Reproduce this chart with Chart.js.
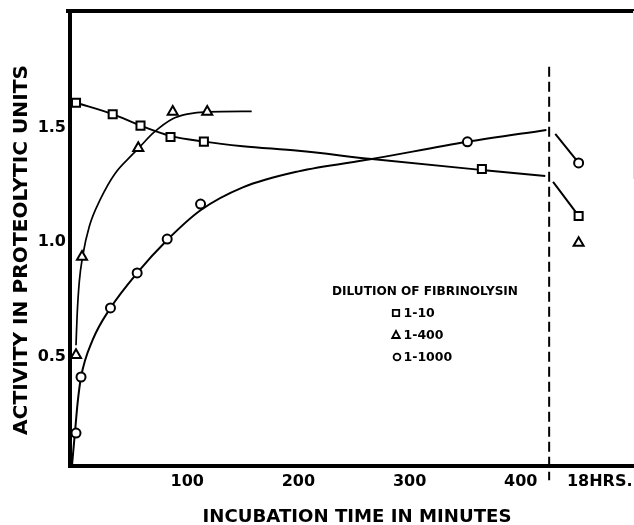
<!DOCTYPE html>
<html>
<head>
<meta charset="utf-8">
<script src="https://cdn.jsdelivr.net/npm/chart.js@4.4.1/dist/chart.umd.min.js"></script>
<style>
  html, body { margin: 0; padding: 0; background: #fff; }
</style>
</head>
<body>
<canvas id="chart" width="634" height="525"></canvas>
<script>
// values: time in minutes, activity in proteolytic units
// the 18 hr readings sit past the break, at x = 452 on the axis
const sqTime = [0, 33, 58, 85, 115, 365, 452];
const sqAct = [1.61, 1.56, 1.51, 1.46, 1.44, 1.32, 1.115];
const sqCurveTime = [0, 33, 58, 85, 115, 150, 200, 266, 365, 422];
const sqCurveAct = [1.61, 1.56, 1.51, 1.465, 1.44, 1.42, 1.40, 1.364, 1.316, 1.29];
const sqTailTime = [429, 452];
const sqTailAct = [1.264, 1.115];

const triTime = [0, 5.4, 56, 87, 118, 452];
const triAct = [0.507, 0.936, 1.412, 1.57, 1.57, 0.997];
const triCurveTime = [0, 1, 3, 6, 12, 21.6, 35, 51, 56, 70, 87, 100, 118, 158];
const triCurveAct = [0.55, 0.68, 0.83, 0.94, 1.07, 1.185, 1.30, 1.385, 1.41, 1.48, 1.54, 1.56, 1.57, 1.572];

const circTime = [0, 4.5, 31, 55, 82, 112, 352, 452];
const circAct = [0.166, 0.411, 0.713, 0.866, 1.014, 1.167, 1.439, 1.347];
const circCurveTime = [-3.5, -1, 1.5, 4.5, 15, 31, 55, 82, 112, 150, 200, 266, 352, 423];
const circCurveAct = [0.03, 0.166, 0.30, 0.41, 0.573, 0.713, 0.866, 1.01, 1.14, 1.24, 1.31, 1.364, 1.439, 1.491];
const circTailTime = [431, 452];
const circTailAct = [1.474, 1.347];

const breakTime = [425.5, 425.5];
const breakAct = [1.767, -0.04];

const dilutions = ['1-10', '1-400', '1-1000'];
const xTickValues = [100, 200, 300, 400, 471];
const xTickLabels = ['100', '200', '300', '400', '18HRS.'];
const yTickValues = [0.5, 1.0, 1.5];

const black = '#000';
const tickFont = { family: 'DejaVu Sans', size: 16, weight: 'bold' };

function pts(xs, ys) {
  return xs.map((x, i) => ({ x: x, y: ys[i] }));
}

const marker = {
  type: 'scatter', showLine: false, borderColor: black, backgroundColor: '#fff',
  pointBorderWidth: 2, pointBackgroundColor: '#fff', pointBorderColor: black, order: 0
};
const curve = {
  type: 'scatter', showLine: true, pointRadius: 0, borderColor: black, borderWidth: 2,
  cubicInterpolationMode: 'monotone', tension: 0.4, order: 1
};

const datasets = [
  { ...marker, label: dilutions[0], data: pts(sqTime, sqAct), pointStyle: 'rect', pointRadius: 5.7 },
  { ...marker, label: dilutions[1], data: pts(triTime, triAct), pointStyle: 'triangle', pointRadius: 5.8 },
  { ...marker, label: dilutions[2], data: pts(circTime, circAct), pointStyle: 'circle', pointRadius: 4.5 },
  { ...curve, data: pts(sqCurveTime, sqCurveAct) },
  { ...curve, data: pts(sqTailTime, sqTailAct), tension: 0 },
  { ...curve, data: pts(triCurveTime, triCurveAct), borderWidth: 1.7 },
  { ...curve, data: pts(circCurveTime, circCurveAct) },
  { ...curve, data: pts(circTailTime, circTailAct), tension: 0 },
  { ...curve, data: pts(breakTime, breakAct), tension: 0, cubicInterpolationMode: 'default',
    borderDash: [10, 5], clip: false }
];

function fitText(ctx, text, x, y, width, angle) {
  const w = ctx.measureText(text).width;
  ctx.save();
  ctx.translate(x, y);
  if (angle) ctx.rotate(angle);
  ctx.scale(width / w, 1);
  ctx.fillText(text, 0, 0);
  ctx.restore();
}

const decor = {
  id: 'decor',
  afterDraw(chart) {
    const ctx = chart.ctx;
    const a = chart.chartArea;
    ctx.save();
    // frame: heavy top rule, faint right edge
    ctx.strokeStyle = black;
    ctx.lineWidth = 4;
    ctx.beginPath();
    ctx.moveTo(66, a.top);
    ctx.lineTo(634, a.top);
    ctx.stroke();
    ctx.strokeStyle = '#d8d8d8';
    ctx.lineWidth = 1;
    ctx.beginPath();
    ctx.moveTo(a.right + 0.5, a.top);
    ctx.lineTo(a.right + 0.5, a.top + 168);
    ctx.stroke();

    // axis titles
    ctx.fillStyle = black;
    ctx.textAlign = 'center';
    ctx.textBaseline = 'middle';
    ctx.font = 'bold 18px "DejaVu Sans"';
    fitText(ctx, 'INCUBATION TIME IN MINUTES', 357, 517, 309);
    ctx.font = 'bold 20px "DejaVu Sans"';
    fitText(ctx, 'ACTIVITY IN PROTEOLYTIC UNITS', 22, 250, 370, -Math.PI / 2);

    // key
    ctx.font = 'bold 12.5px "DejaVu Sans"';
    fitText(ctx, 'DILUTION OF FIBRINOLYSIN', 425, 292, 186);
    ctx.textAlign = 'left';
    const mx = 396;
    const rows = [313, 335, 357];
    ctx.lineWidth = 1.8;
    ctx.strokeStyle = black;
    datasets.slice(0, 3).forEach((ds, i) => {
      const y = rows[i];
      ctx.beginPath();
      if (ds.pointStyle === 'rect') {
        ctx.rect(mx - 3.2, y - 3.2, 6.4, 6.4);
      } else if (ds.pointStyle === 'triangle') {
        ctx.moveTo(mx, y - 4);
        ctx.lineTo(mx + 3.8, y + 3);
        ctx.lineTo(mx - 3.8, y + 3);
        ctx.closePath();
      } else {
        ctx.arc(mx + 1, y, 3.4, 0, Math.PI * 2);
      }
      ctx.stroke();
      ctx.fillText(ds.label, mx + 7.5, y + 0.5);
    });
    ctx.restore();
  }
};

new Chart(document.getElementById('chart'), {
  data: { datasets: datasets },
  options: {
    responsive: false,
    animation: false,
    events: [],
    layout: { autoPadding: false, padding: { top: 11, right: 1, bottom: 0, left: 0 } },
    plugins: { legend: { display: false }, tooltip: { enabled: false } },
    scales: {
      x: {
        type: 'linear', min: -5.4, max: 500.9,
        grid: { display: false, drawTicks: false },
        border: { display: true, color: black, width: 4 },
        ticks: {
          font: tickFont, color: black, padding: 6, maxRotation: 0, autoSkip: false,
          callback: (v) => xTickLabels[xTickValues.indexOf(v)]
        },
        afterBuildTicks: (s) => { s.ticks = xTickValues.map((v) => ({ value: v })); },
        afterFit: (s) => { s.height = 59; s.paddingLeft = 0; s.paddingRight = 0; }
      },
      y: {
        type: 'linear', min: 0.022, max: 2.011,
        grid: { display: false, drawTicks: false },
        border: { display: true, color: black, width: 4 },
        ticks: {
          font: tickFont, color: black, padding: 4,
          callback: (v) => v.toFixed(1)
        },
        afterBuildTicks: (s) => { s.ticks = yTickValues.map((v) => ({ value: v })); },
        afterFit: (s) => { s.width = 70; s.paddingTop = 0; s.paddingBottom = 0; }
      }
    }
  },
  plugins: [decor]
});
</script>
</body>
</html>
